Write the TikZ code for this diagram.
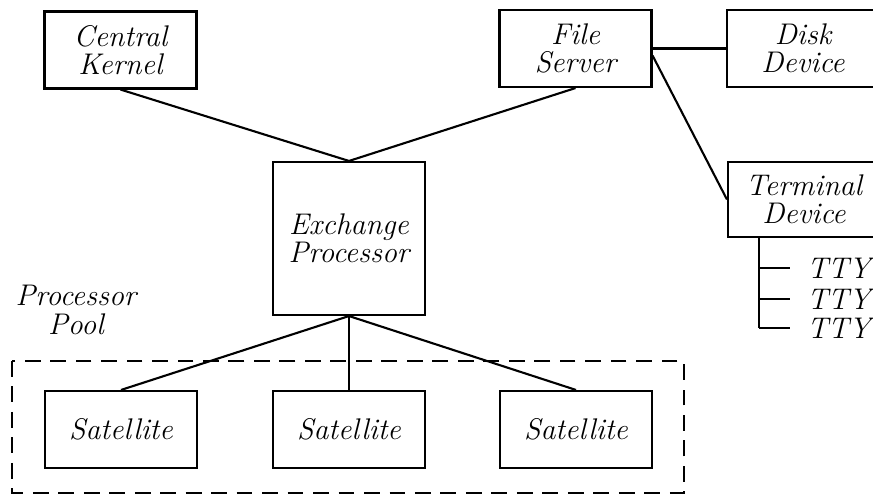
\documentclass[tikz,border=0pt]{standalone}
\begin{document}
\begin{tikzpicture}[x=0.02cm, y=-0.02cm, line width=1.2pt,
    unit/.style={draw, font=\fontsize{17}{16}\selectfont\itshape, align=center,
      minimum width=3.04cm, minimum height=1.54cm, inner sep=0pt},
    tty/.style={font=\fontsize{17}{16}\selectfont\itshape, anchor=west,
      inner xsep=0.32cm, inner ysep=0pt},
    poolbox/.style={draw, dash pattern=on 9pt off 5.5pt}]
  \useasboundingbox (0,0) rectangle (873,497);
    % Kernel and file server
    \node[unit] (kernel) at (120.5,50) {Central\\Kernel};
    \node[unit] (fs) at (575.5,48.5) {File\\Server};
    % Devices on the file server
    \node[unit] (disk) at (803,48.5) {Disk\\Device};
    \node[unit, minimum height=1.5cm] (term) at (804,199.5) {Terminal\\Device};
    \draw (fs.east) -- (disk.west);
    \draw ([yshift=-0.14cm]fs.east) -- (term.west);
    % Terminal lines
    \foreach \i/\y in {1/268, 2/299, 3/328} {
      \coordinate (tap\i) at (759,\y);
      \node[tty] (tty\i) at (790,\y) {TTY};
      \draw (tap\i) -- (tty\i.west);
    }
    \draw (term.south -| tap3) -- (tap3);
    % Exchange processor
    \node[unit, minimum height=3.06cm] (ex) at (349,238.5) {Exchange\\Processor};
    \draw (kernel.south) -- (ex.north);
    \draw (fs.south) -- (ex.north);
    % Processor pool
    \draw[poolbox] (12,361) rectangle (684,493);
    \node[font=\fontsize{17}{16}\selectfont\itshape, align=center] (pool) at (76,310) {Processor\\Pool};
    \foreach \i/\x in {1/121, 2/349, 3/576} {
      \node[unit] (sat\i) at (\x,429.5) {Satellite};
      \draw (ex.south) -- (sat\i.north);
    }
\end{tikzpicture}
\end{document}
